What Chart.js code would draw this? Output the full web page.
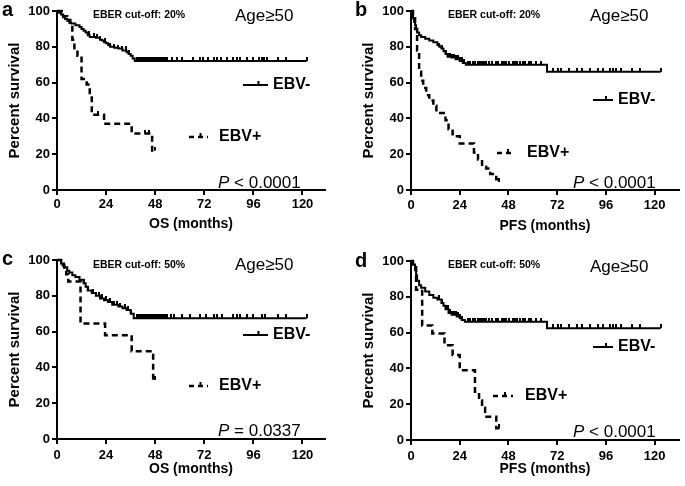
<!DOCTYPE html>
<html>
<head>
<meta charset="utf-8">
<script src="https://cdn.jsdelivr.net/npm/chart.js@4.4.0/dist/chart.umd.min.js"></script>
<style>
  html, body { margin: 0; padding: 0; background: #fff; overflow: hidden; }
  #wrap { position: relative; width: 685px; height: 486px; }
  canvas { position: absolute; }
</style>
</head>
<body>
<div id="wrap">
  <canvas id="pa" width="340" height="240" style="left:0;top:0"></canvas>
  <canvas id="pb" width="331" height="240" style="left:354px;top:0"></canvas>
  <canvas id="pc" width="340" height="237" style="left:0;top:249px"></canvas>
  <canvas id="pd" width="331" height="236" style="left:354px;top:250px"></canvas>
</div>
<script>
// 坐标轴刻度
const xTicks = [0, 24, 48, 72, 96, 120];
const yTicks = [0, 20, 40, 60, 80, 100];

// a: OS, EBER cut-off 20%
const aNegT = [0, 1, 2, 3, 4, 5, 6, 7, 9, 11, 12, 13, 14, 15, 16, 19, 21, 22, 23, 24, 25, 26, 28, 30, 32, 34, 35, 36, 37, 38, 122];
const aNegS = [100, 99, 98, 96.5, 95.5, 94.5, 93.5, 93, 92, 91, 90, 89, 88, 86.5, 85.5, 85, 84, 83.5, 82.5, 82, 81, 80, 79.5, 79, 78, 77, 76, 75, 73.5, 72, 72];
const aNegC = [15.5, 18, 19.5, 21, 23.5, 26, 28, 30, 32, 33.5, 35, 39, 40, 41, 42, 43, 44, 45, 46, 47, 48, 49, 50, 51, 52, 53, 54, 56, 58.5, 61, 66.5, 70, 71.5, 74, 76.5, 78, 80, 83, 86, 88, 89.5, 93, 96, 98.5, 100, 101, 102.5, 108, 112, 122];
const aPosT = [0, 3, 5, 6.5, 7.5, 8.5, 10, 12, 14.5, 16, 17, 23, 36.5, 46.5, 48];
const aPosS = [100, 97, 95, 92, 84, 78, 75, 62, 59, 53, 42, 37, 31.5, 22, 22];
const aPosC = [20, 43, 45, 48];

// b: PFS, EBER cut-off 20%
const bNegT = [0, 0.5, 1, 1.5, 2, 2.5, 3, 4, 5, 7, 9, 11, 13, 14, 15, 16, 17, 18, 20, 22, 24, 25.5, 27, 67, 123];
const bNegS = [100, 98, 96, 94, 92, 90, 88, 86.5, 85.5, 84.5, 83.5, 82.5, 81, 80, 79, 77.5, 76, 74.5, 74, 73, 72, 71, 70, 66, 66];
const bNegC = [14, 15.5, 17, 18, 19, 20, 21, 22, 23, 24, 25, 26, 28, 29, 30.5, 31.5, 33, 34, 35, 36, 37, 38.5, 40, 42, 43, 45, 46, 47, 48.5, 50, 51, 52, 53.5, 55, 56, 58, 59, 61.5, 64, 70, 72.5, 74, 78, 82, 84, 88, 92, 94.5, 98, 99.5, 101, 103.5, 109, 113, 123];
const bPosT = [0, 1, 2, 3, 4, 5, 6, 7.5, 9, 11, 12.5, 17, 18.5, 20.5, 24, 31, 33, 35, 37, 39, 42, 43.5];
const bPosS = [100, 97, 90, 78, 66, 61, 57, 53, 50, 47, 43, 39, 34, 30, 26, 21, 17, 13, 12, 9, 6, 4.5];
const bPosC = [43.5];

// c: OS, EBER cut-off 50%
const cNegT = [0, 2, 3.5, 5, 6, 7.5, 9, 11, 13, 14, 15, 17, 19, 21, 23, 25, 27, 30, 32, 34, 36, 37.5, 122];
const cNegS = [100, 98, 96, 94, 93, 91.5, 90.5, 89, 87, 85, 83, 81.5, 80, 78.5, 77.5, 76.5, 75, 74, 73, 72, 70, 67.5, 67.5];
const cNegC = [13, 15, 17.5, 19, 20.5, 22, 24, 26, 28, 29.5, 31, 33, 34.5, 36, 39, 40, 41, 42, 43, 44, 45, 46, 47, 48, 49, 50, 51, 52, 53, 54, 55.5, 57, 61, 65, 70, 73, 76.5, 78, 80.5, 86, 88, 89.5, 93, 96, 100, 101.5, 108, 112, 122];
const cPosT = [0, 2, 3.5, 4.5, 5.5, 11.5, 23.5, 36.5, 47, 48];
const cPosS = [100, 97, 95, 92, 88, 64.5, 58, 49, 33, 33];
const cPosC = [48];

// d: PFS, EBER cut-off 50%
const dNegT = [0, 1, 2, 2.5, 3, 4, 5, 7, 9, 11, 13, 15, 16, 17, 18.5, 20, 22.5, 24, 25, 26.5, 67, 123];
const dNegS = [100, 98, 95, 92, 89, 86.5, 85, 83, 81, 79.5, 78.5, 76.5, 75, 73, 71, 70, 69, 68, 67, 66, 62.5, 62.5];
const dNegC = [14, 15.5, 17, 18, 19, 20, 21, 22, 23, 24, 25, 28, 29, 30.5, 31.5, 33, 34, 35, 36, 37, 38.5, 40, 42, 43, 45, 46, 47, 48.5, 50, 51, 52, 53.5, 55, 56, 58, 59, 61.5, 64, 70, 72.5, 74, 78, 82, 84, 88, 92, 94.5, 98, 99.5, 101, 103.5, 109, 113, 123];
const dPosT = [0, 1, 2.5, 5.5, 10.5, 16.5, 20.5, 24, 31.5, 33.5, 35, 36.5, 42, 43.5];
const dPosS = [100, 98, 84, 64, 59.5, 53, 47.5, 39, 27, 22, 18, 13, 6.5, 6.5];
const dPosC = [43.5];

// 文字
const letters = ['a', 'b', 'c', 'd'];
const cutoffs = ['EBER cut-off: 20%', 'EBER cut-off: 20%', 'EBER cut-off: 50%', 'EBER cut-off: 50%'];
const xTitles = ['OS (months)', 'PFS (months)', 'OS (months)', 'PFS (months)'];
const pOps = ['< 0.0001', '< 0.0001', '= 0.0337', '< 0.0001'];
const ageText = 'Age\u226550';
const negLabel = 'EBV-';
const posLabel = 'EBV+';

const FONT = "'Liberation Sans', Arial, sans-serif";

// 删失标记：向上的小竖线
const tick = document.createElement('canvas');
tick.width = 2; tick.height = 8;
tick.getContext('2d').fillRect(0, 0, 2, 4);

function pts(t, s) { return t.map((v, i) => ({ x: v, y: s[i] })); }
function survAt(t, s, x) {
  let v = s[0];
  for (let i = 0; i < t.length; i++) if (t[i] <= x) v = s[i];
  return v;
}
function cens(t, s, c) { return c.map(x => ({ x: x, y: survAt(t, s, x) })); }

// 每个面板的版式
const panels = [
  { id: 'pa', xMax: 131, padR: 15, xH: 50, titlePad: 7, tickPad: 2,
    letter: [2, 16], cut: [93, 15], age: [235, 21], neg: [243, 268, 85, 273], pos: [189, 208, 137, 219], p: [218, 188],
    neg_t: aNegT, neg_s: aNegS, neg_c: aNegC, pos_t: aPosT, pos_s: aPosS, pos_c: aPosC },
  { id: 'pb', xMax: 132, padR: 6, xH: 50, titlePad: 5, tickPad: 3,
    letter: [1, 16], cut: [94, 15], age: [236, 21], neg: [239, 259, 100, 264], pos: [143, 161, 153, 173], p: [219, 188],
    neg_t: bNegT, neg_s: bNegS, neg_c: bNegC, pos_t: bPosT, pos_s: bPosS, pos_c: bPosC },
  { id: 'pc', xMax: 131, padR: 15, xH: 47, titlePad: 8, tickPad: 4,
    letter: [2, 16], cut: [93, 16], age: [235, 21], neg: [243, 268, 86, 273], pos: [189, 208, 137, 219], p: [218, 187],
    neg_t: cNegT, neg_s: cNegS, neg_c: cNegC, pos_t: cPosT, pos_s: cPosS, pos_c: cPosC },
  { id: 'pd', xMax: 132, padR: 6, xH: 46, titlePad: 8, tickPad: 4,
    letter: [1, 17], cut: [94, 15], age: [236, 22], neg: [239, 259, 97, 264], pos: [139, 159, 146, 171], p: [219, 187],
    neg_t: dNegT, neg_s: dNegS, neg_c: dNegC, pos_t: dPosT, pos_s: dPosS, pos_c: dPosC }
];

panels.forEach((p, i) => {
  const deco = {
    id: 'deco',
    afterDraw(chart) {
      const ctx = chart.ctx;
      ctx.save();
      ctx.fillStyle = '#000';
      ctx.strokeStyle = '#000';
      ctx.textBaseline = 'alphabetic';
      ctx.textAlign = 'left';
      ctx.font = 'bold 20px ' + FONT;
      ctx.fillText(letters[i], p.letter[0], p.letter[1]);
      ctx.textBaseline = 'middle';
      ctx.font = 'bold 10.5px ' + FONT;
      ctx.fillText(cutoffs[i], p.cut[0], p.cut[1]);
      ctx.textBaseline = 'alphabetic';
      ctx.font = '17px ' + FONT;
      ctx.fillText(ageText, p.age[0], p.age[1]);
      // P 值
      ctx.font = 'italic 17px ' + FONT;
      ctx.fillText('P', p.p[0], p.p[1]);
      const w = ctx.measureText('P ').width;
      ctx.font = '17px ' + FONT;
      ctx.fillText(pOps[i], p.p[0] + w, p.p[1]);
      // 图例
      ctx.lineWidth = 2;
      ctx.beginPath();
      ctx.moveTo(p.neg[0], p.neg[2]); ctx.lineTo(p.neg[1], p.neg[2]);
      const mn = (p.neg[0] + p.neg[1]) / 2 + 3;
      ctx.moveTo(mn, p.neg[2]); ctx.lineTo(mn, p.neg[2] - 4);
      ctx.stroke();
      ctx.lineWidth = 2.5;
      ctx.setLineDash([5, 4]);
      ctx.beginPath();
      ctx.moveTo(p.pos[0], p.pos[2]); ctx.lineTo(p.pos[1], p.pos[2]);
      ctx.stroke();
      ctx.setLineDash([]);
      ctx.lineWidth = 2;
      const mp = (p.pos[0] + p.pos[1]) / 2 + 2;
      ctx.beginPath();
      ctx.moveTo(mp, p.pos[2]); ctx.lineTo(mp, p.pos[2] - 4);
      ctx.stroke();
      ctx.textBaseline = 'middle';
      ctx.font = 'bold 16px ' + FONT;
      ctx.fillText(negLabel, p.neg[3], p.neg[2]);
      ctx.fillText(posLabel, p.pos[3], p.pos[2]);
      ctx.restore();
    }
  };

  new Chart(document.getElementById(p.id), {
    type: 'scatter',
    data: {
      datasets: [
        { data: pts(p.neg_t, p.neg_s), showLine: true, stepped: 'before', borderColor: '#000', borderWidth: 2, pointRadius: 0, clip: false },
        { data: pts(p.pos_t, p.pos_s), showLine: true, stepped: 'before', borderColor: '#000', borderWidth: 2.5, borderDash: [6, 4], pointRadius: 0, clip: false },
        { data: cens(p.neg_t, p.neg_s, p.neg_c), pointStyle: tick, pointRadius: 4, borderColor: '#000', backgroundColor: '#000', clip: false },
        { data: cens(p.pos_t, p.pos_s, p.pos_c), pointStyle: tick, pointRadius: 4, borderColor: '#000', backgroundColor: '#000', clip: false }
      ]
    },
    options: {
      responsive: false,
      animation: false,
      devicePixelRatio: 1,
      layout: { padding: { left: 0, top: 11, right: p.padR, bottom: 0 } },
      plugins: { legend: { display: false }, tooltip: { enabled: false } },
      scales: {
        x: {
          type: 'linear', min: 0, max: p.xMax,
          afterBuildTicks: s => { s.ticks = xTicks.map(v => ({ value: v })); },
          afterFit: s => { s.height = p.xH; },
          grid: { drawOnChartArea: false, drawTicks: true, tickLength: 5, color: '#000', lineWidth: 2 },
          border: { color: '#000', width: 2 },
          ticks: { color: '#000', padding: p.tickPad, maxRotation: 0, autoSkip: false, font: { family: FONT, size: 13, weight: 'bold' } },
          title: { display: true, text: xTitles[i], color: '#000', padding: { top: 0, bottom: p.titlePad }, font: { family: FONT, size: 14, weight: 'bold' } }
        },
        y: {
          min: 0, max: 100,
          afterBuildTicks: s => { s.ticks = yTicks.map(v => ({ value: v })); },
          afterFit: s => { s.width = 57; },
          grid: { drawOnChartArea: false, drawTicks: true, tickLength: 5, color: '#000', lineWidth: 2 },
          border: { color: '#000', width: 2 },
          ticks: { color: '#000', padding: 2, font: { family: FONT, size: 13, weight: 'bold' } },
          title: { display: true, text: 'Percent survival', color: '#000', padding: { top: 6, bottom: 0 }, font: { family: FONT, size: 15, weight: 'bold' } }
        }
      }
    },
    plugins: [deco]
  });
});
</script>
</body>
</html>
